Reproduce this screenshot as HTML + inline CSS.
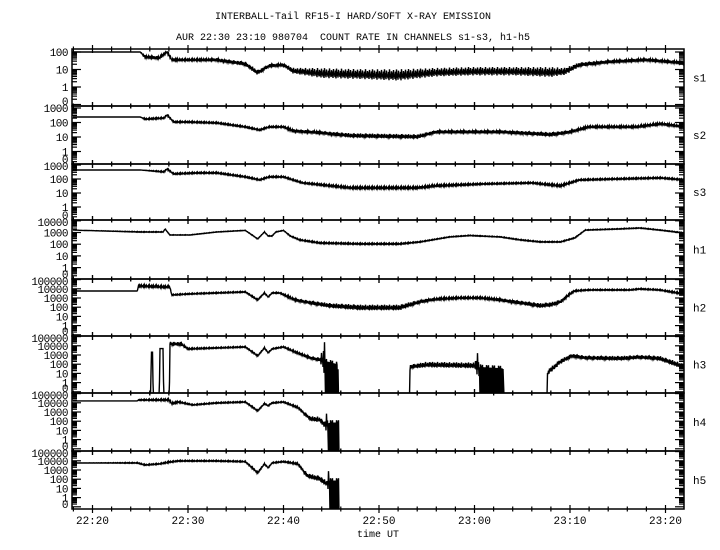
<!DOCTYPE html>
<html><head><meta charset="utf-8">
<style>
html,body{margin:0;padding:0;background:#fff;}
svg{display:block;font-family:"Liberation Mono",monospace;}
</style></head>
<body>
<svg id="chart" width="720" height="550" viewBox="0 0 720 550">
<rect x="0" y="0" width="720" height="550" fill="#fff"/>
<text x="353" y="19" font-size="10" text-anchor="middle" fill="#000">INTERBALL-Tail RF15-I HARD/SOFT X-RAY EMISSION</text>
<text x="353" y="40" font-size="10" text-anchor="middle" fill="#000" xml:space="preserve">AUR 22:30 23:10 980704  COUNT RATE IN CHANNELS s1-s3, h1-h5</text>
<text x="378" y="537" font-size="10" text-anchor="middle" fill="#000">time UT</text>
<g id="plots"></g>
</svg>
<script>
// ---- data (time in minutes after 22:00 UT; values = counts; spread = noise half-range in decades)
const timeTicks = [20,30,40,50,60,70,80];
const timeTickLabels = ["22:20","22:30","22:40","22:50","23:00","23:10","23:20"];
const channelNames = ["s1","s2","s3","h1","h2","h3","h4","h5"];

const s1T = [18,25,25.5,27,27.8,28.3,30,33,36,37.3,38.5,40,41,44,48,52,56,60,64,68,69.5,71,74,78,82];
const s1V = [100,100,51,45,100,35,35,35,20,6.3,16,18,8,5.5,4.8,4.2,6.3,7.2,7.2,6.3,7.2,18,27,35,23];
const s1S = [0,0,.08,.08,.05,.08,.05,.08,.12,.14,.08,.08,.16,.28,.28,.32,.24,.24,.24,.28,.2,.12,.08,.08,.08];

const s2T = [18,25,25.5,27.5,27.8,28.5,30,33,36,37.5,38.5,40,41,44,47,54,56,63,68,70,72,77,79.5,82];
const s2V = [240,240,170,200,330,107,107,93,49,30,49,49,26,19,12,10,22,22,14,22,49,49,79,49];
const s2S = [0,0,.05,.05,.05,.05,.05,.05,.05,.05,.05,.05,.1,.1,.15,.15,.1,.1,.15,.1,.08,.08,.08,.08];

const s3T = [18,25,27.5,27.8,28.5,31,33,36,37.5,38.5,40,41,42,47,54,56,61,66,69,71,75,79.5,82];
const s3V = [440,440,320,520,230,270,270,140,85,140,140,85,52,23,23,32,44,52,32,85,100,118,85];
const s3S = [0,0,.05,.05,.05,.05,.05,.05,.05,.05,.05,.05,.05,.08,.08,.08,.05,.05,.08,.05,.05,.05,.05];

const h1T = [18,25,27.4,27.6,28.1,30.2,33,36,37.3,38,38.4,38.8,39.2,40,40.7,41.7,43.8,48,52.2,54.3,57.4,59.5,62.7,64.8,66.9,69,70.5,71.6,75.2,77.3,79.4,82];
const h1V = [1600,1100,1100,2000,610,610,1100,1500,280,1100,500,500,1100,1500,500,230,126,105,105,155,415,550,415,230,155,155,340,1600,2000,2400,1600,900];
const h1S = [0,.03,.03,.03,.02,.02,.02,.02,.03,.03,.03,.03,.03,.02,.04,.05,.06,.06,.06,.04,.03,.03,.03,.04,.04,.04,.04,.03,.03,.03,.03,.03];

const h2T = [18,24.7,24.8,27.9,28.1,28.3,30,33,36,37.3,38,38.4,38.8,39.6,41.2,42.8,44.9,48,52.2,53.2,54.3,55.3,56.4,58.5,60.6,62.7,64.8,66.9,68,69,70,70.5,72,76.3,77.3,79.4,81.9];
const h2V = [5800,5800,20000,15000,15000,2100,2700,3500,4500,600,3500,1250,3500,3500,600,290,135,82,82,175,370,600,780,1000,1000,600,290,135,175,370,2700,5800,7400,7400,9500,7400,2700];
const h2S = [0,0,.12,.12,.1,.06,.06,.06,.06,.08,.06,.06,.06,.06,.15,.2,.25,.3,.3,.25,.2,.15,.12,.1,.1,.15,.2,.25,.25,.2,.1,.08,.06,.06,.06,.06,.1];

const h3T = [18,26.1,26.15,26.3,26.35,27.0,27.05,27.4,27.45,28.05,28.1,28.3,29.3,30,33,36,37.3,38,38.4,38.8,40,41.2,42.8,43.8,44.7,45.7,45.75,53.2,53.25,55,60,60.8,63,63.05,67.6,67.65,69,70.2,71.6,75.2,77.3,79.4,81.9];
const h3V = [0,0,2000,2000,0,0,5000,5000,0,0,20000,15000,15000,4500,5800,7400,780,5800,1700,4500,7400,2100,470,290,150,80,0,0,50,80,65,40,30,0,0,11,175,780,470,390,560,390,50];
const h3S = [0,0,0,0,0,0,0,0,0,0,.15,.2,.2,.08,.06,.06,.08,.06,.06,.06,.06,.1,.15,.2,3,3,0,0,.2,.3,.3,3,3,0,0,.3,.25,.2,.2,.25,.2,.25,.3];

const h4T = [18,24.7,24.8,28,28.3,29,30.5,33,36,37.3,38,38.4,38.8,40,41.5,42.8,43.8,44.3,44.9,45.8,45.85,82];
const h4V = [16000,16000,20000,20000,8000,12000,5800,9500,12000,1300,8000,4700,9500,12000,3000,170,135,38,60,60,0,0];
const h4S = [0,0,.06,.1,.15,.08,.06,.06,.06,.08,.06,.06,.06,.06,.1,.25,.3,.3,3,3,0,0];

const h5T = [18,24.7,25.5,27,28,29,33,36,37.3,38,38.4,38.8,40,41.5,42.5,43.8,44.5,44.9,45.8,45.85,82];
const h5V = [5800,5800,3500,4500,7000,9500,9500,8000,470,4500,1700,5800,8000,4500,220,100,30,60,60,0,0];
const h5S = [0,.05,.06,.06,.08,.06,.06,.06,.1,.06,.06,.06,.06,.1,.25,.3,.3,3,3,0,0];

const seriesT = [s1T,s2T,s3T,h1T,h2T,h3T,h4T,h5T];
const seriesV = [s1V,s2V,s3V,h1V,h2V,h3V,h4V,h5V];
const seriesS = [s1S,s2S,s3S,h1S,h2S,h3S,h4S,h5S];
const axisLabelSets = [
  ["100","10","1","0"],
  ["1000","100","10","1","0"],
  ["1000","100","10","1","0"],
  ["10000","1000","100","10","1","0"],
  ["100000","10000","1000","100","10","1","0"],
  ["100000","10000","1000","100","10","1","0"],
  ["100000","10000","1000","100","10","1","0"],
  ["100000","10000","1000","100","10","1","0"]
];

// ---- layout (not data)
const X0 = 72, X1 = 684;
const panelTop = [49,106,164,220,279,336,393,451];
const panelBot = [106,164,220,279,336,393,451,509];
const panelY1000 = [34.5,108,165,232.5,298,355,412,470];
const panelDec = [17.5,14.5,14,11.7,9.2,9.2,9.2,9.2];
const jitter = [1,0.4,0.8,0.2,0.6,1,0.3,0.7,0.5,0.9,0.25,0.65];

function xScale(t){ return 188 + (t-30)*9.55; }
function yScale(p, v){
  if (v <= 0) return panelBot[p] + 3;
  return panelY1000[p] + (3 - Math.log10(v)) * panelDec[p];
}

const NS = "http://www.w3.org/2000/svg";
const root = document.getElementById("plots");
function mk(tag, attrs, parent){
  const e = document.createElementNS(NS, tag);
  for (const k in attrs) e.setAttribute(k, attrs[k]);
  (parent||root).appendChild(e);
  return e;
}

for (let p = 0; p < 8; p++){
  const g = mk("g", {});
  
  
  const top = panelTop[p], bot = panelBot[p];

  const cp = mk("clipPath", {id: "clip" + p}, g);
  mk("rect", {x: X0, y: top, width: X1 - X0, height: bot - top}, cp);

  const T = seriesT[p], V = seriesV[p], S = seriesS[p];
  const ys = V.map(v => yScale(p, v));
  let pts = [];
  let k = 0;
  const xa = Math.round(xScale(T[0])), xb = Math.round(xScale(T[T.length-1]));
  for (let x = Math.max(xa, X0); x <= Math.min(xb, X1); x += 0.5){
    const t = 30 + (x - 188) / 9.55;
    while (k < T.length - 2 && T[k+1] < t) k++;
    const f = Math.min(1, Math.max(0, (t - T[k]) / (T[k+1] - T[k])));
    const yc = ys[k] + (ys[k+1] - ys[k]) * f;
    const sRaw = S[k] + (S[k+1] - S[k]) * f;
    const idx = Math.round(x * 2);
    if (sRaw >= 2){
      // dropout region: vertical bars between value and zero
      const yy = (idx % 3 === 0) ? bot + 3 : yc - ((idx % 4 === 1) ? 3 : 0);
      pts.push(x.toFixed(1) + "," + yy.toFixed(1));
      continue;
    }
    const sp = sRaw * panelDec[p];
    const sign = (idx % 2 === 0) ? 1 : -1;
    const amp = sp * jitter[(idx >> 1) % jitter.length] * (sign < 0 ? 1.2 : 0.8);
    pts.push(x.toFixed(1) + "," + (yc + sign * amp).toFixed(1));
  }
  const line = mk("polyline", {points: pts.join(" "), fill: "none", stroke: "#000", "stroke-width": "1.4", "clip-path": "url(#clip" + p + ")"}, g);
  
  

  const fr = mk("rect", {x: X0, y: top, width: X1 - X0, height: bot - top, fill: "none", stroke: "#000", "stroke-width": "1.5"}, g);
  
  

  for (let t = 18; t <= 82; t += 2){
    const x = xScale(t);
    if (x < X0 || x > X1) continue;
    const major = (t % 10 === 0);
    const L = major ? 4 : 2.5;
    mk("line", {x1: x, x2: x, y1: top - L, y2: top + L, stroke: "#000", "stroke-width": "1.2"}, g);
    mk("line", {x1: x, x2: x, y1: bot - L, y2: bot + L, stroke: "#000", "stroke-width": "1.2"}, g);
  }

  const tg = mk("g", {"clip-path": "url(#clip" + p + ")"}, g);
  
  
  for (let d = -1; d <= 5; d++){
    for (let m = 1; m <= 9; m++){
      const v = m * Math.pow(10, d);
      const y = yScale(p, v);
      if (y < top || y > bot) continue;
      const L = (m === 1) ? 9 : 5;
      mk("line", {x1: X0, x2: X0 + L, y1: y, y2: y, stroke: "#000", "stroke-width": "1.2"}, tg);
      mk("line", {x1: X1 - L, x2: X1, y1: y, y2: y, stroke: "#000", "stroke-width": "1.2"}, tg);
    }
  }

  const labs = axisLabelSets[p];
  labs.forEach(lab => {
    let y = (lab === "0") ? bot - 5 : yScale(p, Number(lab));
    if (y < top + 2) y = top + 2;
    const tx = mk("text", {x: 68, y: y + 4, "font-size": "11", "text-anchor": "end", fill: "#000", "letter-spacing": "-0.5"}, g);
    
    
    tx.textContent = lab;
  });

  const cn = mk("text", {x: 693, y: (top + bot) / 2 + 4, "font-size": "11", fill: "#000"}, g);
  
  
  cn.textContent = channelNames[p];
}

timeTicks.forEach((t, i) => {
  const tx = mk("text", {x: xScale(t), y: 524, "font-size": "11", "text-anchor": "middle", fill: "#000"});
  
  
  tx.textContent = timeTickLabels[i];
});
</script>
</body></html>
